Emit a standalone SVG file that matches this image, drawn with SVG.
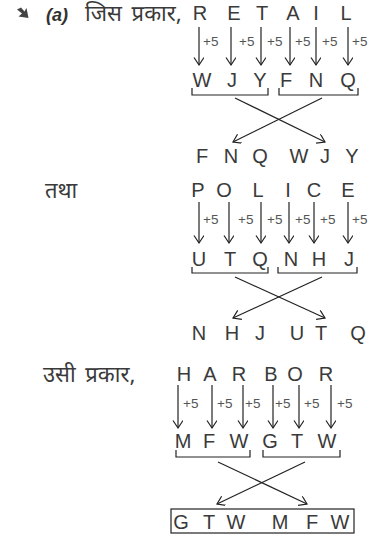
<svg xmlns="http://www.w3.org/2000/svg" width="389" height="535" viewBox="0 0 389 535">
<style>
.l{font-family:"Liberation Sans",Arial,sans-serif;font-size:20px;fill:#3a3a3a;text-anchor:middle}
.p{font-family:"Liberation Sans",Arial,sans-serif;font-size:13.5px;fill:#555}
.h{font-family:"Noto Sans Devanagari","Noto Sans","Lohit Devanagari",sans-serif;font-size:22px;word-spacing:4px;fill:#3a3a3a}
.a{stroke:#222;stroke-width:1.2;fill:none;marker-end:url(#ah)}
.b{stroke:#222;stroke-width:1.2;fill:none}
</style>
<defs>
<marker id="ah" markerUnits="userSpaceOnUse" markerWidth="12" markerHeight="12" refX="9" refY="5" orient="auto">
<path d="M1.5,0 L9,5 L1.5,10" fill="none" stroke="#222" stroke-width="1.2"/>
</marker>
</defs>
<g id="heading">
<path d="M17,9.5 L21,7.5 L24.5,11.5 L26.5,8 L28.5,18 L18.5,16.5 L22,13.5 Z" fill="#444"/>
<text x="46" y="21" style="font-family:'Liberation Sans',Arial,sans-serif;font-size:18px;font-weight:bold;font-style:italic;fill:#333">(a)</text>
<text x="85" y="21" class="h">जिस प्रकार,</text>
<text x="45" y="198" class="h">तथा</text>
<text x="43" y="382" class="h">उसी प्रकार,</text>
</g>
<g id="block1">
<text y="20" class="l"><tspan x="200">R</tspan><tspan x="234">E</tspan><tspan x="262">T</tspan><tspan x="293">A</tspan><tspan x="316">I</tspan><tspan x="346">L</tspan></text>
<text y="46" class="p"><tspan x="203">+5</tspan><tspan x="239">+5</tspan><tspan x="267">+5</tspan><tspan x="295">+5</tspan><tspan x="322">+5</tspan><tspan x="352">+5</tspan></text>
<text y="87" class="l"><tspan x="202">W</tspan><tspan x="232">J</tspan><tspan x="260">Y</tspan><tspan x="286">F</tspan><tspan x="316">N</tspan><tspan x="348">Q</tspan></text>
<text y="163" class="l"><tspan x="202">F</tspan><tspan x="231">N</tspan><tspan x="260">Q</tspan><tspan x="299">W</tspan><tspan x="325">J</tspan><tspan x="352">Y</tspan></text>
</g>
<g id="block2">
<text y="197" class="l"><tspan x="198">P</tspan><tspan x="224">O</tspan><tspan x="258">L</tspan><tspan x="288">I</tspan><tspan x="314">C</tspan><tspan x="348">E</tspan></text>
<text y="224" class="p"><tspan x="203">+5</tspan><tspan x="238">+5</tspan><tspan x="267">+5</tspan><tspan x="295">+5</tspan><tspan x="320">+5</tspan><tspan x="352">+5</tspan></text>
<text y="266" class="l"><tspan x="199">U</tspan><tspan x="230">T</tspan><tspan x="260">Q</tspan><tspan x="291">N</tspan><tspan x="319">H</tspan><tspan x="349">J</tspan></text>
<text y="340" class="l"><tspan x="199">N</tspan><tspan x="232">H</tspan><tspan x="260">J</tspan><tspan x="297">U</tspan><tspan x="321">T</tspan><tspan x="358">Q</tspan></text>
</g>
<g id="block3">
<text y="381" class="l"><tspan x="184">H</tspan><tspan x="210">A</tspan><tspan x="239">R</tspan><tspan x="271">B</tspan><tspan x="295">O</tspan><tspan x="326">R</tspan></text>
<text y="408" class="p"><tspan x="183">+5</tspan><tspan x="217">+5</tspan><tspan x="245">+5</tspan><tspan x="275">+5</tspan><tspan x="304">+5</tspan><tspan x="337">+5</tspan></text>
<text y="448" class="l"><tspan x="183">M</tspan><tspan x="209">F</tspan><tspan x="239">W</tspan><tspan x="270">G</tspan><tspan x="297">T</tspan><tspan x="327">W</tspan></text>
<rect x="171" y="509" width="183" height="24" class="b"/>
<text y="529" class="l"><tspan x="181">G</tspan><tspan x="209">T</tspan><tspan x="236">W</tspan><tspan x="280">M</tspan><tspan x="312">F</tspan><tspan x="340">W</tspan></text>
</g>
<g id="connectors">
<path class="a" d="M199,27V65"/><path class="a" d="M231,27V65"/><path class="a" d="M261,27V65"/><path class="a" d="M290,27V65"/><path class="a" d="M316,27V65"/><path class="a" d="M348,27V65"/>
<path class="b" d="M192,88V95H268V88M279,88V95H358V88"/>
<path class="a" d="M235,98L325,142"/>
<path class="a" d="M322,98L233,142"/>
<path class="a" d="M199,202V243"/><path class="a" d="M229,202V243"/><path class="a" d="M261,202V243"/><path class="a" d="M289,202V243"/><path class="a" d="M314,202V243"/><path class="a" d="M348,202V243"/>
<path class="b" d="M192,267V273H268V267M278,267V273H357V267"/>
<path class="a" d="M235,277L325,318"/>
<path class="a" d="M322,277L233,318"/>
<path class="a" d="M178,385V428"/><path class="a" d="M212,385V428"/><path class="a" d="M243,385V428"/><path class="a" d="M273,385V428"/><path class="a" d="M299,385V428"/><path class="a" d="M331,385V428"/>
<path class="b" d="M176,450V457H250V450M263,450V457H340V450"/>
<path class="a" d="M218,462L307,504"/>
<path class="a" d="M305,462L217,504"/>
</g>
</svg>
